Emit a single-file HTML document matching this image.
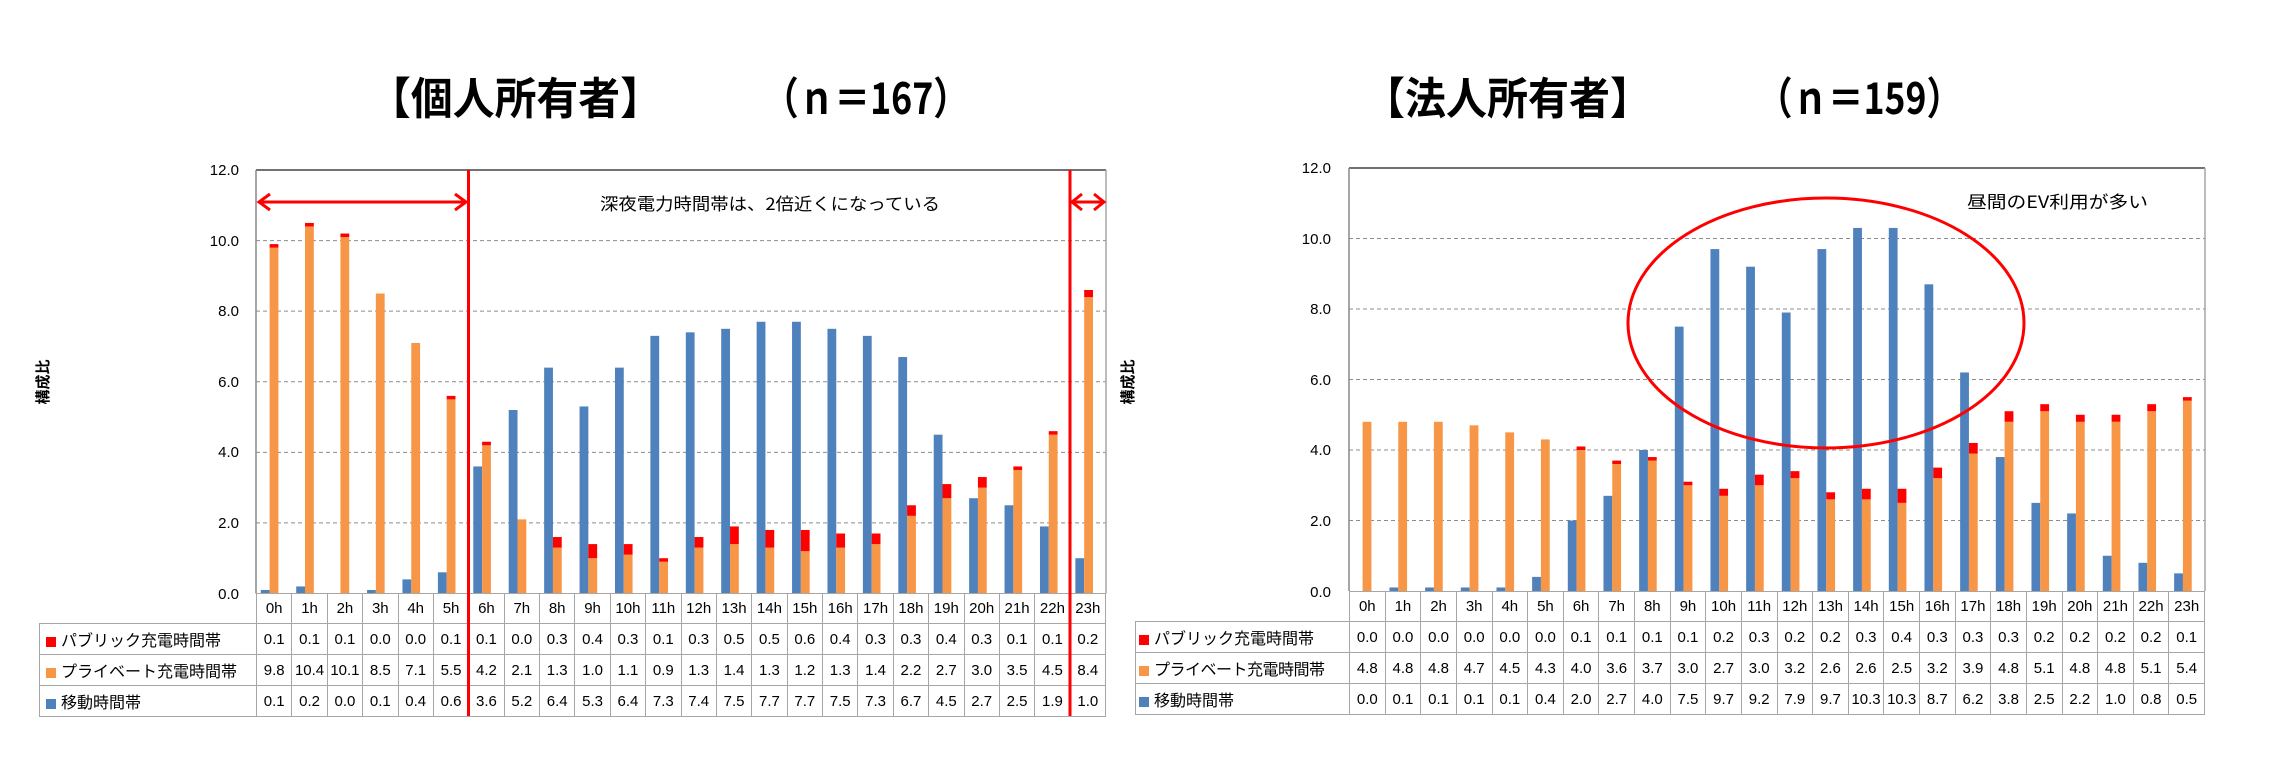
<!DOCTYPE html>
<html><head><meta charset="utf-8">
<style>
html,body{margin:0;padding:0;background:#fff;}
body{width:2269px;height:782px;position:relative;overflow:hidden;font-family:"Liberation Sans","Noto Sans CJK JP",sans-serif;}
svg{position:absolute;left:0;top:0;}
table{position:absolute;border-collapse:collapse;table-layout:fixed;font-size:15px;color:#000;}
td{border:1.5px solid #a6a6a6;text-align:center;padding:0;white-space:nowrap;overflow:visible;}
td.lab{text-align:left;padding-left:6px;font-size:16px;}
td.e{border-top:none;border-left:none;}
tr.h td{height:29px;}
tr.r td{height:30px;}
.m{display:inline-block;width:10px;height:10px;margin-right:5px;vertical-align:-1px;}
</style></head><body>
<svg id="bars" width="2269" height="782"></svg>

<table style="left:39px;top:593px;width:1067px;">
<colgroup><col style="width:217px"><col span="24"></colgroup>
<tr class="h"><td class="e"></td><td>0h</td><td>1h</td><td>2h</td><td>3h</td><td>4h</td><td>5h</td><td>6h</td><td>7h</td><td>8h</td><td>9h</td><td>10h</td><td>11h</td><td>12h</td><td>13h</td><td>14h</td><td>15h</td><td>16h</td><td>17h</td><td>18h</td><td>19h</td><td>20h</td><td>21h</td><td>22h</td><td>23h</td></tr>
<tr class="r"><td class="lab"><span class="m" style="background:#ff0000"></span>パブリック充電時間帯</td><td>0.1</td><td>0.1</td><td>0.1</td><td>0.0</td><td>0.0</td><td>0.1</td><td>0.1</td><td>0.0</td><td>0.3</td><td>0.4</td><td>0.3</td><td>0.1</td><td>0.3</td><td>0.5</td><td>0.5</td><td>0.6</td><td>0.4</td><td>0.3</td><td>0.3</td><td>0.4</td><td>0.3</td><td>0.1</td><td>0.1</td><td>0.2</td></tr>
<tr class="r"><td class="lab"><span class="m" style="background:#f79646"></span>プライベート充電時間帯</td><td>9.8</td><td>10.4</td><td>10.1</td><td>8.5</td><td>7.1</td><td>5.5</td><td>4.2</td><td>2.1</td><td>1.3</td><td>1.0</td><td>1.1</td><td>0.9</td><td>1.3</td><td>1.4</td><td>1.3</td><td>1.2</td><td>1.3</td><td>1.4</td><td>2.2</td><td>2.7</td><td>3.0</td><td>3.5</td><td>4.5</td><td>8.4</td></tr>
<tr class="r"><td class="lab"><span class="m" style="background:#4f81bd"></span>移動時間帯</td><td>0.1</td><td>0.2</td><td>0.0</td><td>0.1</td><td>0.4</td><td>0.6</td><td>3.6</td><td>5.2</td><td>6.4</td><td>5.3</td><td>6.4</td><td>7.3</td><td>7.4</td><td>7.5</td><td>7.7</td><td>7.7</td><td>7.5</td><td>7.3</td><td>6.7</td><td>4.5</td><td>2.7</td><td>2.5</td><td>1.9</td><td>1.0</td></tr>
</table>

<table style="left:1135px;top:591px;width:1070px;">
<colgroup><col style="width:214px"><col span="24"></colgroup>
<tr class="h"><td class="e"></td><td>0h</td><td>1h</td><td>2h</td><td>3h</td><td>4h</td><td>5h</td><td>6h</td><td>7h</td><td>8h</td><td>9h</td><td>10h</td><td>11h</td><td>12h</td><td>13h</td><td>14h</td><td>15h</td><td>16h</td><td>17h</td><td>18h</td><td>19h</td><td>20h</td><td>21h</td><td>22h</td><td>23h</td></tr>
<tr class="r"><td class="lab" style="padding-left:3px"><span class="m" style="background:#ff0000"></span>パブリック充電時間帯</td><td>0.0</td><td>0.0</td><td>0.0</td><td>0.0</td><td>0.0</td><td>0.0</td><td>0.1</td><td>0.1</td><td>0.1</td><td>0.1</td><td>0.2</td><td>0.3</td><td>0.2</td><td>0.2</td><td>0.3</td><td>0.4</td><td>0.3</td><td>0.3</td><td>0.3</td><td>0.2</td><td>0.2</td><td>0.2</td><td>0.2</td><td>0.1</td></tr>
<tr class="r"><td class="lab" style="padding-left:3px;letter-spacing:-0.5px"><span class="m" style="background:#f79646"></span>プライベート充電時間帯</td><td>4.8</td><td>4.8</td><td>4.8</td><td>4.7</td><td>4.5</td><td>4.3</td><td>4.0</td><td>3.6</td><td>3.7</td><td>3.0</td><td>2.7</td><td>3.0</td><td>3.2</td><td>2.6</td><td>2.6</td><td>2.5</td><td>3.2</td><td>3.9</td><td>4.8</td><td>5.1</td><td>4.8</td><td>4.8</td><td>5.1</td><td>5.4</td></tr>
<tr class="r"><td class="lab" style="padding-left:3px"><span class="m" style="background:#4f81bd"></span>移動時間帯</td><td>0.0</td><td>0.1</td><td>0.1</td><td>0.1</td><td>0.1</td><td>0.4</td><td>2.0</td><td>2.7</td><td>4.0</td><td>7.5</td><td>9.7</td><td>9.2</td><td>7.9</td><td>9.7</td><td>10.3</td><td>10.3</td><td>8.7</td><td>6.2</td><td>3.8</td><td>2.5</td><td>2.2</td><td>1.0</td><td>0.8</td><td>0.5</td></tr>
</table>

<svg width="2269" height="782" style="pointer-events:none">
<g font-family="Liberation Sans, Noto Sans CJK JP, sans-serif" fill="#000">
<g font-weight="bold">
<text x="369" y="114" font-size="44" font-family="Noto Sans CJK JP, sans-serif" textLength="293" lengthAdjust="spacingAndGlyphs">【個人所有者】</text>
<text x="763" y="114" font-size="44" font-family="Noto Sans CJK JP, sans-serif" textLength="206" lengthAdjust="spacingAndGlyphs">（ｎ＝167）</text>
<text x="1364" y="114" font-size="44" font-family="Noto Sans CJK JP, sans-serif" textLength="287" lengthAdjust="spacingAndGlyphs">【法人所有者】</text>
<text x="1757" y="114" font-size="44" font-family="Noto Sans CJK JP, sans-serif" textLength="205" lengthAdjust="spacingAndGlyphs">（ｎ＝159）</text>
</g>
<g font-size="15" text-anchor="end">
<text x="239" y="175">12.0</text><text x="239" y="246">10.0</text><text x="239" y="316">8.0</text><text x="239" y="387">6.0</text><text x="239" y="457">4.0</text><text x="239" y="528">2.0</text><text x="239" y="599">0.0</text>
<text x="1331" y="173">12.0</text><text x="1331" y="244">10.0</text><text x="1331" y="314">8.0</text><text x="1331" y="385">6.0</text><text x="1331" y="455">4.0</text><text x="1331" y="526">2.0</text><text x="1331" y="597">0.0</text>
</g>
<text x="0" y="0" font-size="15" font-weight="bold" font-family="Noto Sans CJK JP, sans-serif" transform="translate(48,382) rotate(-90)" text-anchor="middle">構成比</text>
<text x="0" y="0" font-size="15" font-weight="bold" font-family="Noto Sans CJK JP, sans-serif" transform="translate(1133,382) rotate(-90)" text-anchor="middle">構成比</text>
<text x="600" y="210" font-size="17" font-family="Noto Sans CJK JP, sans-serif" textLength="340" lengthAdjust="spacingAndGlyphs">深夜電力時間帯は、2倍近くになっている</text>
<text x="1967" y="208" font-size="17" font-family="Noto Sans CJK JP, sans-serif" textLength="181" lengthAdjust="spacingAndGlyphs">昼間のEV利用が多い</text>
</g>
<g stroke="#ff0000" stroke-width="3" fill="none">
<line x1="468.5" y1="170" x2="468.5" y2="716"/>
<line x1="1070" y1="170" x2="1070" y2="716"/>
<line x1="259" y1="202" x2="466" y2="202"/>
<polyline points="270,194 259,202 270,210"/>
<polyline points="455,194 466,202 455,210"/>
<line x1="1072" y1="202" x2="1104" y2="202"/>
<polyline points="1082,194 1072,202 1082,210"/>
<polyline points="1094,194 1104,202 1094,210"/>
<ellipse cx="1826" cy="323" rx="198" ry="125"/>
</g>
</svg>

<script>
(function(){
var NS="http://www.w3.org/2000/svg",svg=document.getElementById("bars");
function el(t,a){var e=document.createElementNS(NS,t);for(var k in a)e.setAttribute(k,a[k]);svg.appendChild(e);return e;}
function chart(x0,x1,y0,y1,mv,pr,pb){
 var k=(y1-y0)/12,cw=(x1-x0)/24;
 for(var g=1;g<6;g++){var y=y1-g*2*k;el("line",{x1:x0,x2:x1,y1:y,y2:y,stroke:"#8c8c8c","stroke-dasharray":"4,3","stroke-width":1});}
 el("line",{x1:x0,x2:x1,y1:y0,y2:y0,stroke:"#444","stroke-width":1.5});
 el("line",{x1:x1,x2:x1,y1:y0,y2:y1,stroke:"#a6a6a6","stroke-width":1.5});
 el("line",{x1:x0,x2:x0,y1:y0,y2:y1,stroke:"#888","stroke-width":1.5});
 for(var i=0;i<24;i++){
  var bx=x0+i*cw+4.8,w=8.8;
  var h=mv[i]*k;el("rect",{x:bx,y:y1-h,width:w,height:h,fill:"#4f81bd"});
  var h2=pr[i]*k;el("rect",{x:bx+w,y:y1-h2,width:w,height:h2,fill:"#f79646"});
  var h3=pb[i]*k;el("rect",{x:bx+w,y:y1-h2-h3,width:w,height:h3,fill:"#ff0000"});
 }
}
chart(256,1106,170,593.5,
[0.1,0.2,0.0,0.1,0.4,0.6,3.6,5.2,6.4,5.3,6.4,7.3,7.4,7.5,7.7,7.7,7.5,7.3,6.7,4.5,2.7,2.5,1.9,1.0],
[9.8,10.4,10.1,8.5,7.1,5.5,4.2,2.1,1.3,1.0,1.1,0.9,1.3,1.4,1.3,1.2,1.3,1.4,2.2,2.7,3.0,3.5,4.5,8.4],
[0.1,0.1,0.1,0.0,0.0,0.1,0.1,0.0,0.3,0.4,0.3,0.1,0.3,0.5,0.5,0.6,0.4,0.3,0.3,0.4,0.3,0.1,0.1,0.2]);
chart(1349,2205,168,591,
[0.0,0.1,0.1,0.1,0.1,0.4,2.0,2.7,4.0,7.5,9.7,9.2,7.9,9.7,10.3,10.3,8.7,6.2,3.8,2.5,2.2,1.0,0.8,0.5],
[4.8,4.8,4.8,4.7,4.5,4.3,4.0,3.6,3.7,3.0,2.7,3.0,3.2,2.6,2.6,2.5,3.2,3.9,4.8,5.1,4.8,4.8,5.1,5.4],
[0.0,0.0,0.0,0.0,0.0,0.0,0.1,0.1,0.1,0.1,0.2,0.3,0.2,0.2,0.3,0.4,0.3,0.3,0.3,0.2,0.2,0.2,0.2,0.1]);
})();
</script>
</body></html>
